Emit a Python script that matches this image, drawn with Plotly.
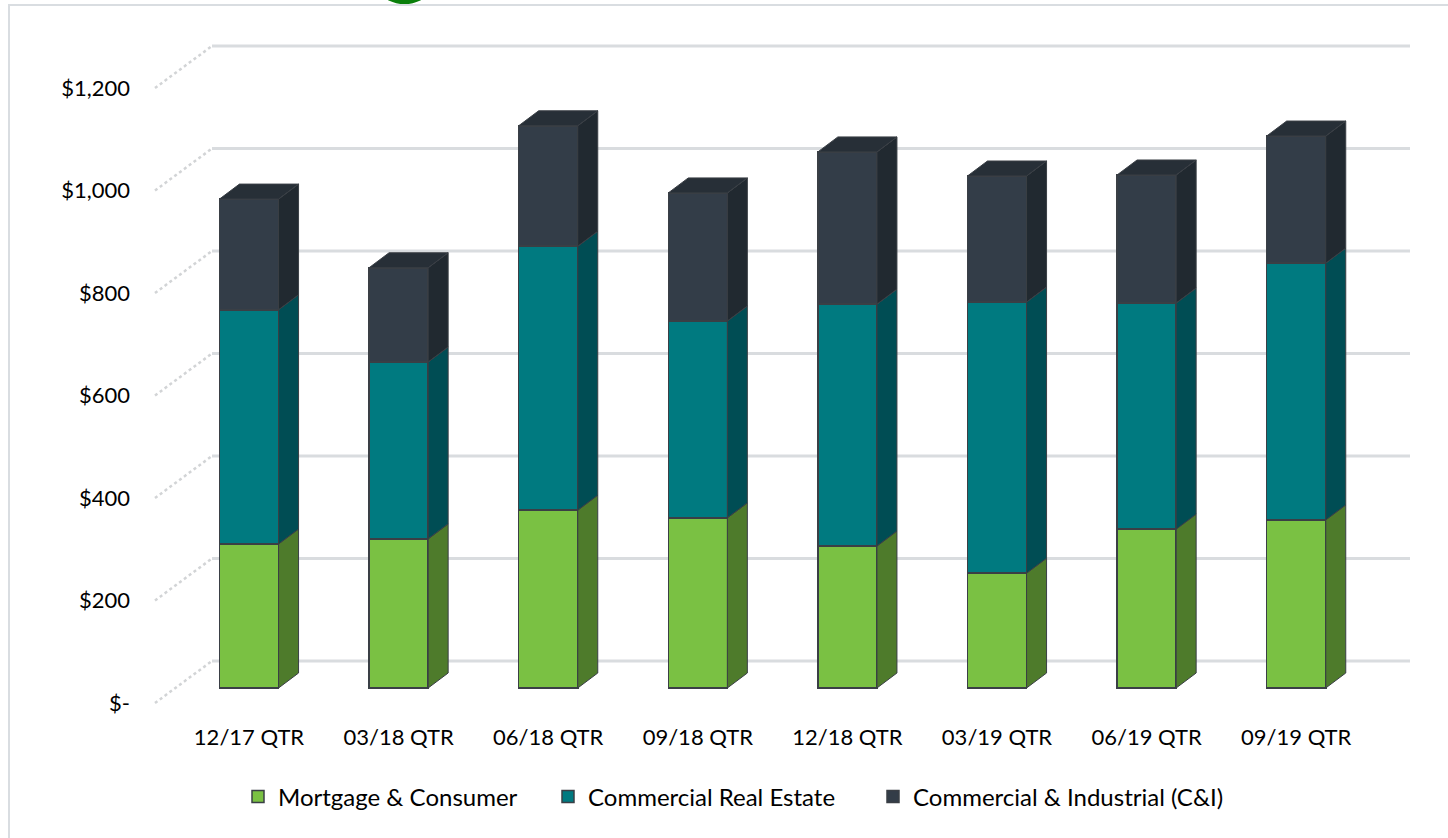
import plotly.graph_objects as go

# ---------------- data ----------------
categories = ["12/17 QTR", "03/18 QTR", "06/18 QTR", "09/18 QTR",
              "12/18 QTR", "03/19 QTR", "06/19 QTR", "09/19 QTR"]
mortgage_consumer = [281, 291, 347, 332, 277, 224, 310, 328]
commercial_real_estate = [457, 345, 515, 384, 472, 529, 441, 501]
commercial_industrial = [216, 184, 235, 250, 297, 246, 250, 248]
series_names = ["Mortgage & Consumer", "Commercial Real Estate", "Commercial & Industrial (C&I)"]
tick_values = [0, 200, 400, 600, 800, 1000, 1200]
tick_labels = ["$-", "$200", "$400", "$600", "$800", "$1,000", "$1,200"]

# ---------------- style ----------------
front_colors = ["#7AC143", "#007A80", "#333D48"]
side_colors = ["#4E7B2B", "#004D54", "#212930"]
top_color = "#272F37"
edge_color = "#3A3F45"
FONT = "Lato, Carlito, Calibri, sans-serif"

W, H = 1448, 838                  # screen / figure size
L, R, T, B = 155, 1410, 30, 710   # plot area in pixels
ppu = 0.5125                      # pixels per value unit
x_step = 149.6                    # pixels per category
x_first = 249                     # pixel of first category centre
base_px = 688                     # pixel of zero on the front plane
bar_w = 0.395                     # category units
dx = 20 / x_step                  # depth offset in category units
dy = 15 / ppu                     # depth offset in value units
back_off = 27 / ppu               # back wall offset
label_off = -15 / ppu             # label plane offset
legend_text_px = [278, 588, 913]  # where each legend text starts

xr = [(L - x_first) / x_step, (R - x_first) / x_step]
yr = [-(B - base_px) / ppu, (base_px - T) / ppu]

series = [mortgage_consumer, commercial_real_estate, commercial_industrial]
xs = list(range(len(categories)))
legend_ids = ["legend", "legend2", "legend3"]

fig = go.Figure()

# front faces
for name, vals, col, lg in zip(series_names, series, front_colors, legend_ids):
    fig.add_trace(go.Bar(
        x=xs, y=vals, name=name, width=bar_w, legend=lg,
        marker=dict(color=col, line=dict(color=edge_color, width=1.5)),
    ))

# side faces (computed from data)
cum = [0] * len(categories)
for vals, scol in zip(series, side_colors):
    px, py = [], []
    for i, v in enumerate(vals):
        y0, y1 = cum[i], cum[i] + v
        xa = i + bar_w / 2
        px += [xa, xa + dx, xa + dx, xa, xa, None]
        py += [y0, y0 + dy, y1 + dy, y1, y0, None]
        cum[i] = y1
    fig.add_trace(go.Scatter(
        x=px, y=py, mode="lines", fill="toself", fillcolor=scol,
        line=dict(color=edge_color, width=1), showlegend=False, hoverinfo="skip"))

# top faces
px, py = [], []
for i, top in enumerate(cum):
    xl, xrr = i - bar_w / 2, i + bar_w / 2
    px += [xl, xl + dx, xrr + dx, xrr, xl, None]
    py += [top, top + dy, top + dy, top, top, None]
fig.add_trace(go.Scatter(
    x=px, y=py, mode="lines", fill="toself", fillcolor=top_color,
    line=dict(color=edge_color, width=1), showlegend=False, hoverinfo="skip"))


def pxx(p):
    return (p - L) / (R - L)


def pyy(p):
    return (B - p) / (B - T)


# back-wall gridlines and side-wall diagonals
wall_x = pxx(212)
shapes = []
for v in tick_values:
    shapes.append(dict(type="line", xref="paper", yref="y", layer="below",
                       x0=wall_x, x1=1, y0=v + back_off, y1=v + back_off,
                       line=dict(color="#D9DCDF", width=3)))
    shapes.append(dict(type="line", xref="paper", yref="y", layer="below",
                       x0=0, x1=wall_x, y0=v + label_off, y1=v + back_off,
                       line=dict(color="#D2D4D6", width=2.5, dash="dot")))

# outer chart border
shapes.append(dict(type="rect", xref="paper", yref="paper", layer="below",
                   x0=pxx(9), x1=pxx(1470), y0=pyy(5), y1=pyy(860),
                   line=dict(color="#D9DDE1", width=2), fillcolor="rgba(0,0,0,0)"))
# small green tab at the top edge
shapes.append(dict(type="circle", xref="paper", yref="paper",
                   x0=pxx(383), x1=pxx(426), y0=pyy(4), y1=pyy(-18),
                   line=dict(width=0), fillcolor="#0A7F0A"))

legend_common = dict(orientation="h", xanchor="left", y=pyy(797), yanchor="middle",
                     font=dict(family=FONT, size=24, color="#000000"),
                     itemwidth=30, bgcolor="rgba(0,0,0,0)")
legends = {lg: dict(legend_common, x=pxx(tx - 40)) for lg, tx in zip(legend_ids, legend_text_px)}

fig.update_layout(
    width=W, height=H,
    margin=dict(l=L, r=W - R, t=T, b=H - B),
    paper_bgcolor="white", plot_bgcolor="white",
    barmode="stack",
    font=dict(family=FONT, size=22, color="#000000"),
    shapes=shapes,
    showlegend=True,
    xaxis=dict(range=xr, tickvals=xs, ticktext=categories, showgrid=False,
               zeroline=False, showline=False, ticks="", ticklabelstandoff=12,
               tickfont=dict(family=FONT, size=22, color="#000000")),
    yaxis=dict(range=yr, tickvals=[v + label_off for v in tick_values],
               ticktext=tick_labels, showgrid=False, zeroline=False,
               showline=False, ticks="", ticklabelstandoff=24,
               tickfont=dict(family=FONT, size=22, color="#000000")),
    **legends,
)

fig.write_html(
    "out.html",
    config={"displayModeBar": False},
    post_script="document.body.style.margin='0px';document.body.style.overflow='hidden';",
)
